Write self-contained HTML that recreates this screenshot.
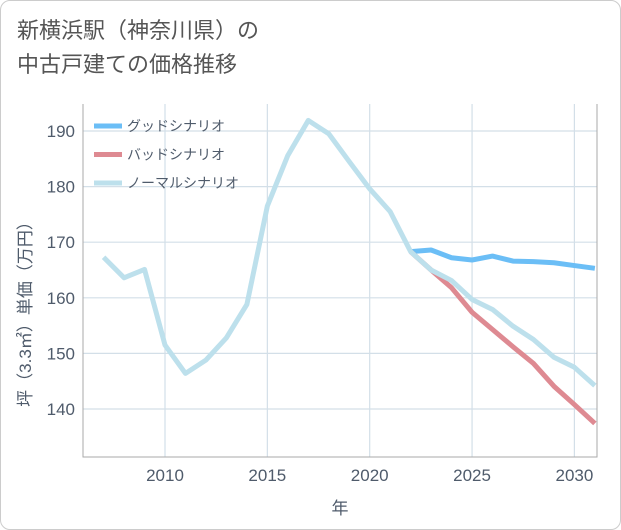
<!DOCTYPE html>
<html><head><meta charset="utf-8"><style>
body{margin:0;background:#fff;}
#wrap{position:relative;width:621px;height:530px;background:#fff;font-family:"Liberation Sans","Noto Sans CJK JP",sans-serif;}
#card{position:absolute;left:0;top:0;width:619px;height:528px;border:1px solid #ccc;border-radius:10px;}
#title{position:absolute;left:17px;top:14px;font-size:22px;line-height:34px;color:#555;}
svg text{font-family:"Liberation Sans","Noto Sans CJK JP",sans-serif;}
</style></head><body>
<div id="wrap">
<div id="card"></div>
<div id="title">新横浜駅（神奈川県）の<br>中古戸建ての価格推移</div>
<svg id="chart" width="621" height="530" style="position:absolute;left:0;top:0"></svg>
</div>
<script>
const years=[2007,2008,2009,2010,2011,2012,2013,2014,2015,2016,2017,2018,2019,2020,2021,2022,2023,2024,2025,2026,2027,2028,2029,2030,2031];
const normal=[167.3,163.6,165.1,151.5,146.4,148.8,152.8,158.8,176.5,185.6,191.9,189.5,184.5,179.6,175.5,168.3,165.0,163.1,159.7,157.9,154.9,152.5,149.3,147.5,144.2];
const goodYears=[2022,2023,2024,2025,2026,2027,2028,2029,2030,2031];
const good=[168.3,168.6,167.2,166.8,167.5,166.6,166.5,166.3,165.8,165.3];
const bad=[168.3,165.0,161.8,157.4,154.3,151.2,148.2,144.1,140.8,137.4];
const xTicks=[2010,2015,2020,2025,2030];
const yTicks=[140,150,160,170,180,190];
const L=83,R=597,T=104,B=457;
const X=v=>165+(v-2010)*20.47;
const Y=v=>409-(v-140)*5.56;
const svg=document.getElementById('chart');
const NS='http://www.w3.org/2000/svg';
const TXT='#4f5b6b';
function mk(t,a){const e=document.createElementNS(NS,t);for(const k in a)e.setAttribute(k,a[k]);svg.appendChild(e);return e;}
yTicks.forEach(v=>{
const g=mk('line',{x1:L,x2:R,y1:Y(v),y2:Y(v),stroke:'#d3dfe8','stroke-width':1.2});


const t=mk('text',{x:L-8,y:Y(v)+6,'text-anchor':'end','font-size':17,fill:TXT});t.textContent=v;


});
xTicks.forEach(v=>{
const g=mk('line',{x1:X(v),x2:X(v),y1:T,y2:B,stroke:'#d3dfe8','stroke-width':1.2});


const t=mk('text',{x:X(v),y:B+24,'text-anchor':'middle','font-size':17,fill:TXT});t.textContent=v;


});
const fr=mk('path',{d:`M${L} ${T}V${B}H${R}V${T}`,fill:'none',stroke:'#aaa','stroke-width':1});


function line(xs,ys,c,name){const p=mk('polyline',{points:xs.map((x,i)=>X(x)+','+Y(ys[i])).join(' '),fill:'none',stroke:c,'stroke-width':5,'stroke-linejoin':'round'});

}
line(goodYears,good,'#6bbef6','good-scenario-line');
line(goodYears,bad,'#de8a92','bad-scenario-line');
line(years,normal,'#bde0ec','normal-scenario-line');
const leg=[['グッドシナリオ','#6bbef6'],['バッドシナリオ','#de8a92'],['ノーマルシナリオ','#bde0ec']];
leg.forEach((l,i)=>{const y=126+i*28.5;
const s=mk('line',{x1:94,x2:122,y1:y,y2:y,stroke:l[1],'stroke-width':5});


const t=mk('text',{x:127,y:y+5,'font-size':14,fill:TXT});t.textContent=l[0];

});
const yt=mk('text',{x:0,y:0,'font-size':17,fill:TXT,'text-anchor':'middle',transform:'translate(31,310) rotate(-90)'});yt.textContent='坪（3.3㎡）単価（万円）';


const xt=mk('text',{x:340,y:514,'font-size':17,fill:TXT,'text-anchor':'middle'});xt.textContent='年';


</script>
</body></html>
